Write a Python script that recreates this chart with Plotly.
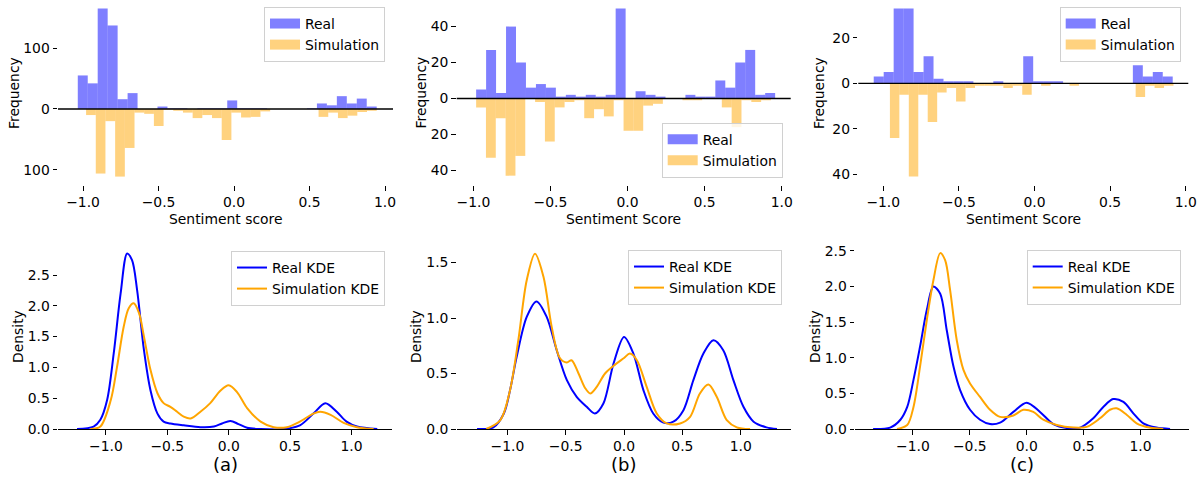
import numpy as np
import plotly.graph_objects as go

# ---------------- data ----------------
# Histograms: 30 equal-width bins over [start, end]
a_real_range = [-1.035, 0.945]
a_real_counts = [55, 42, 165, 137, 16, 26, 0, 0, 4, 1, 1, 0, 1, 1, 1, 14, 1, 1, 1, 0,
                 0, 0, 0, 1, 9, 6, 21, 9, 17, 4]
a_sim_range = [-0.98, 0.945]
a_sim_counts = [10, 106, 20, 111, 64, 6, 8, 28, 1, 3, 6, 15, 10, 15, 51, 6, 14, 13, 4, 0,
                0, 0, 0, 0, 13, 6, 15, 11, 5, 3]

b_real_range = [-0.982, 0.957]
b_real_counts = [5, 27, 3, 40, 20, 6, 8, 6, 1, 2, 1, 2, 1, 2, 50, 0, 4, 2, 1, 0,
                 0, 2, 1, 1, 10, 6, 20, 27, 2, 3]
b_sim_range = [-0.982, 0.93]
b_sim_counts = [5, 33, 11, 43, 32, 0, 2, 24, 5, 2, 1, 11, 6, 10, 1, 18, 18, 4, 3, 0,
                0, 1, 1, 0, 0, 5, 16, 1, 2, 1]

c_real_range = [-1.063, 0.914]
c_real_counts = [3, 5, 33, 33, 5, 12, 2, 1, 1, 1, 0, 0, 1, 0, 0, 12, 1, 1, 1, 0,
                 0, 0, 0, 0, 0, 0, 8, 3, 5, 3]
c_sim_range = [-0.956, 0.919]
c_sim_counts = [24, 5, 41, 5, 17, 4, 2, 8, 2, 1, 1, 1, 2, 1, 5, 0, 1, 0, 0, 1,
                0, 0, 0, 0, 0, 0, 6, 1, 2, 1]

# KDE curves
ka_x_real = [-1.235, -1.10, -1.045, -0.99, -0.936, -0.88, -0.827, -0.787, -0.746, -0.69, -0.637,
             -0.58, -0.53, -0.475, -0.366, -0.23, -0.12, -0.054, 0.014, 0.08, 0.15, 0.26, 0.45,
             0.58, 0.69, 0.787, 0.88, 0.96, 1.045, 1.21]
ka_y_real = [0, 0.04, 0.15, 0.47, 1.23, 2.2, 2.85, 2.74, 2.26, 1.28, 0.63, 0.25, 0.12, 0.09,
             0.06, 0.03, 0.04, 0.09, 0.13, 0.08, 0.02, 0, 0, 0.06, 0.25, 0.42, 0.28, 0.12, 0.04, 0]
ka_x_sim = [-1.126, -1.045, -0.96, -0.91, -0.855, -0.814, -0.773, -0.73, -0.69, -0.637, -0.58,
            -0.53, -0.475, -0.42, -0.366, -0.31, -0.23, -0.15, -0.068, 0.0, 0.068, 0.15, 0.26,
            0.366, 0.475, 0.58, 0.69, 0.746, 0.83, 0.936, 1.045, 1.18]
ka_y_sim = [0, 0.04, 0.47, 1.0, 1.66, 1.96, 2.04, 1.88, 1.5, 0.96, 0.58, 0.42, 0.36, 0.28, 0.2,
            0.17, 0.28, 0.42, 0.62, 0.71, 0.6, 0.34, 0.12, 0.03, 0.03, 0.12, 0.25, 0.28, 0.23,
            0.1, 0.03, 0]

kb_x_real = [-1.26, -1.12, -1.03, -0.977, -0.92, -0.834, -0.75, -0.663, -0.577, -0.49, -0.406,
             -0.32, -0.25, -0.177, -0.09, 0.0, 0.08, 0.166, 0.25, 0.337, 0.423, 0.509, 0.594,
             0.68, 0.766, 0.85, 0.937, 1.023, 1.11, 1.22, 1.31]
kb_y_real = [0, 0.015, 0.14, 0.35, 0.65, 1.01, 1.15, 1.01, 0.71, 0.44, 0.29, 0.2, 0.14, 0.23,
             0.59, 0.83, 0.68, 0.35, 0.14, 0.057, 0.066, 0.17, 0.44, 0.68, 0.8, 0.71, 0.44, 0.2,
             0.066, 0.015, 0]
kb_x_sim = [-1.18, -1.06, -0.977, -0.906, -0.834, -0.763, -0.69, -0.62, -0.55, -0.49, -0.45,
            -0.39, -0.334, -0.29, -0.234, -0.163, -0.077, 0.0, 0.05, 0.11, 0.194, 0.28, 0.366,
            0.48, 0.566, 0.65, 0.723, 0.794, 0.88, 0.966, 1.08]
kb_y_sim = [0, 0.08, 0.35, 0.8, 1.34, 1.58, 1.37, 0.92, 0.64, 0.6, 0.62, 0.5, 0.37, 0.32, 0.38,
            0.5, 0.58, 0.64, 0.68, 0.62, 0.38, 0.14, 0.05, 0.05, 0.11, 0.32, 0.4, 0.29, 0.08,
            0.015, 0]

kc_x_real = [-1.35, -1.2, -1.11, -1.05, -0.995, -0.937, -0.878, -0.82, -0.76, -0.703, -0.644,
             -0.586, -0.498, -0.41, -0.322, -0.234, -0.117, 0.0, 0.117, 0.234, 0.35, 0.47, 0.585,
             0.673, 0.76, 0.85, 0.937, 1.025, 1.14, 1.26]
kc_y_real = [0, 0.02, 0.13, 0.31, 0.69, 1.16, 1.67, 2.0, 1.9, 1.39, 0.88, 0.55, 0.27, 0.13, 0.07,
             0.09, 0.24, 0.37, 0.24, 0.07, 0.015, 0.02, 0.15, 0.31, 0.42, 0.38, 0.22, 0.08, 0.02, 0]
kc_x_sim = [-1.14, -1.05, -0.995, -0.937, -0.878, -0.82, -0.76, -0.717, -0.673, -0.615, -0.556,
            -0.498, -0.41, -0.322, -0.234, -0.117, -0.03, 0.058, 0.146, 0.264, 0.41, 0.527,
            0.644, 0.732, 0.79, 0.878, 0.966, 1.08, 1.2]
kc_y_sim = [0, 0.056, 0.31, 0.88, 1.53, 2.09, 2.47, 2.37, 1.95, 1.25, 0.83, 0.64, 0.45, 0.27,
            0.17, 0.19, 0.27, 0.24, 0.13, 0.056, 0.02, 0.03, 0.15, 0.27, 0.29, 0.2, 0.08, 0.02, 0]

hist_titles = ["Sentiment score", "Sentiment Score", "Sentiment Score"]
panel_labels = ["(a)", "(b)", "(c)"]

# ---------------- styling / layout ----------------
W, H = 1203, 479
FONT = "DejaVu Sans"
FS = 13.9
REAL_BAR = "rgba(0,0,255,0.5)"
SIM_BAR = "rgba(255,165,0,0.5)"


def px(v):
    return v / W


def py(v):
    return 1 - v / H


hist_xdom = [(58, 393), (456.7, 790.7), (858.3, 1188.3)]
hist_xrng = [(-1.166, 1.053), (-1.108, 1.058), (-1.165, 1.017)]
hist_yrng = [(-124.8, 178.8), (-48.2, 54.8), (-44.7, 36.7)]
hist_yticks = [[-100, 0, 100], [-40, -20, 0, 20, 40], [-40, -20, 0, 20]]
kde_xdom = [(58, 392), (456.7, 790.7), (855, 1189.3)]
kde_xrng = [(-1.39, 1.33), (-1.434, 1.428), (-1.509, 1.429)]
kde_ymax = [2.987, 1.658, 2.584]
kde_yticks = [[0, 0.5, 1, 1.5, 2, 2.5], [0, 0.5, 1, 1.5], [0, 0.5, 1, 1.5, 2, 2.5]]

hist_data = [
    (a_real_range, a_real_counts, a_sim_range, a_sim_counts),
    (b_real_range, b_real_counts, b_sim_range, b_sim_counts),
    (c_real_range, c_real_counts, c_sim_range, c_sim_counts),
]
kde_data = [
    (ka_x_real, ka_y_real, ka_x_sim, ka_y_sim),
    (kb_x_real, kb_y_real, kb_x_sim, kb_y_sim),
    (kc_x_real, kc_y_real, kc_x_sim, kc_y_sim),
]

fig = go.Figure()
layout = dict(
    template="none",
    width=W, height=H, margin=dict(l=0, r=0, t=0, b=0, pad=0, autoexpand=False),
    paper_bgcolor="white", plot_bgcolor="white",
    font=dict(family=FONT, size=FS, color="black"),
    barmode="overlay", annotations=[], shapes=[],
)

axis_common = dict(showgrid=False, zeroline=False, ticks="outside", ticklen=4.5,
                   tickwidth=1, tickcolor="black", automargin=False,
                   tickfont=dict(family=FONT, size=FS, color="black"))

hist_leg_pos = [(385, 7, "top"), (782.7, 177.7, "bottom"), (1180.7, 7, "top")]
kde_leg_pos = [(385, 251), (782, 250), (1180.7, 250)]


def edges(rng, n):
    return np.linspace(rng[0], rng[1], n + 1)


def legend_box(x, y, yanchor):
    return dict(x=px(x), y=py(y), xanchor="right", yanchor=yanchor,
                bgcolor="rgba(255,255,255,0.8)", bordercolor="#d0d0d0", borderwidth=1,
                font=dict(family=FONT, size=FS, color="black"),
                itemwidth=30, tracegroupgap=0)


for i in range(3):
    # ---- histogram panel ----
    k = 2 * i + 1
    xa = "x" if k == 1 else f"x{k}"
    ya = "y" if k == 1 else f"y{k}"
    leg = "legend" if k == 1 else f"legend{k}"
    rr, rc, sr, sc = hist_data[i]
    re_ = edges(rr, len(rc))
    se_ = edges(sr, len(sc))
    fig.add_trace(go.Bar(x=(re_[:-1] + re_[1:]) / 2, y=rc, width=np.diff(re_),
                         marker=dict(color=REAL_BAR, line=dict(width=0)), name="Real",
                         xaxis=xa, yaxis=ya, showlegend=False))
    fig.add_trace(go.Bar(x=(se_[:-1] + se_[1:]) / 2, y=[-v for v in sc], width=np.diff(se_),
                         marker=dict(color=SIM_BAR, line=dict(width=0)), name="Simulation",
                         xaxis=xa, yaxis=ya, showlegend=False))
    # legend-only entries with rectangular (matplotlib-like) patches
    for nm, col in (("Real", REAL_BAR), ("Simulation", SIM_BAR)):
        fig.add_trace(go.Scatter(x=[None], y=[None], mode="lines", name=nm,
                                 line=dict(color=col, width=10), xaxis=xa, yaxis=ya,
                                 legend=leg, hoverinfo="skip"))
    layout["xaxis" if k == 1 else f"xaxis{k}"] = dict(
        axis_common, domain=[px(hist_xdom[i][0]), px(hist_xdom[i][1])],
        range=list(hist_xrng[i]), anchor=ya, showline=False,
        tickvals=[-1, -0.5, 0, 0.5, 1], tickformat=".1f")
    yt = hist_yticks[i]
    layout["yaxis" if k == 1 else f"yaxis{k}"] = dict(
        axis_common, domain=[py(185), py(0)], range=list(hist_yrng[i]), anchor=xa,
        showline=False, tickvals=yt, ticktext=[str(abs(v)) for v in yt])
    lx, ly, yanc = hist_leg_pos[i]
    layout[leg] = legend_box(lx, ly, yanc)
    layout["shapes"].append(dict(type="line", xref=f"{xa} domain", yref=ya, x0=0, x1=1,
                                 y0=0, y1=0, line=dict(color="black", width=1.4),
                                 layer="above"))
    cx = (hist_xdom[i][0] + hist_xdom[i][1]) / 2
    layout["annotations"].append(dict(text=hist_titles[i], x=px(cx), y=py(219), xref="paper",
                                      yref="paper", showarrow=False, xanchor="center",
                                      yanchor="middle", font=dict(size=FS)))
    layout["annotations"].append(dict(text="Frequency", x=px([14, 420.5, 819][i]), y=py(93),
                                      xref="paper", yref="paper", showarrow=False,
                                      textangle=-90, xanchor="center", yanchor="middle",
                                      font=dict(size=FS)))

    # ---- KDE panel ----
    k = 2 * i + 2
    xa = f"x{k}"
    ya = f"y{k}"
    leg = f"legend{k}"
    xr, yr, xs, ys = kde_data[i]
    fig.add_trace(go.Scatter(x=xr, y=yr, mode="lines", name="Real KDE",
                             line=dict(color="blue", width=2, shape="spline", smoothing=0.9),
                             xaxis=xa, yaxis=ya, legend=leg))
    fig.add_trace(go.Scatter(x=xs, y=ys, mode="lines", name="Simulation KDE",
                             line=dict(color="orange", width=2, shape="spline", smoothing=0.9),
                             xaxis=xa, yaxis=ya, legend=leg))
    layout[f"xaxis{k}"] = dict(
        axis_common, domain=[px(kde_xdom[i][0]), px(kde_xdom[i][1])],
        range=list(kde_xrng[i]), anchor=ya, showline=True, linecolor="black", linewidth=1.3,
        tickvals=[-1, -0.5, 0, 0.5, 1], tickformat=".1f")
    layout[f"yaxis{k}"] = dict(
        axis_common, domain=[py(429), py(245)], range=[0, kde_ymax[i]], anchor=xa,
        showline=False, tickvals=kde_yticks[i], tickformat=".1f")
    lx, ly = kde_leg_pos[i]
    layout[leg] = legend_box(lx, ly, "top")
    cx = (kde_xdom[i][0] + kde_xdom[i][1]) / 2
    layout["annotations"].append(dict(text=panel_labels[i], x=px(cx), y=py(464), xref="paper",
                                      yref="paper", showarrow=False, xanchor="center",
                                      yanchor="middle", font=dict(size=18)))
    layout["annotations"].append(dict(text="Density", x=px([18, 416, 815][i]), y=py(337),
                                      xref="paper", yref="paper", showarrow=False,
                                      textangle=-90, xanchor="center", yanchor="middle",
                                      font=dict(size=FS)))

fig.update_layout(**layout)
fig.write_html("out.html", config={"displayModeBar": False},
               post_script="document.body.style.margin='0px';document.body.style.padding='0px';")
